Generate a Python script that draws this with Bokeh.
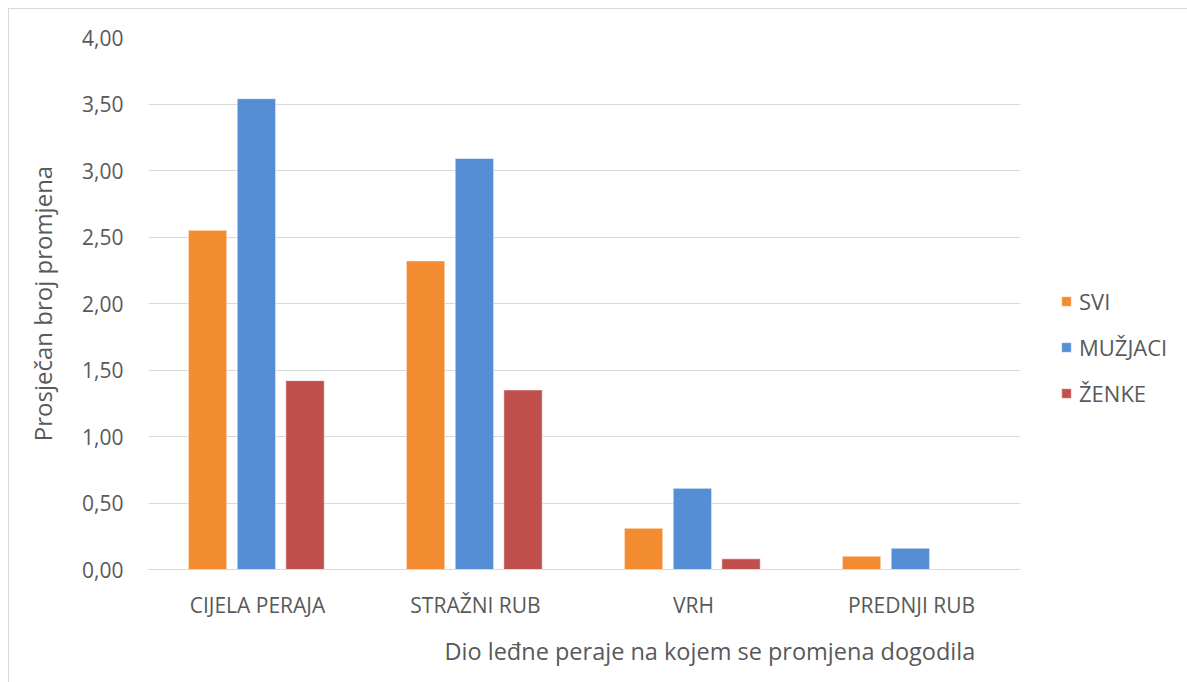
from bokeh.plotting import figure
from bokeh.models import (ColumnDataSource, FactorRange, Range1d, FixedTicker,
                          CustomJSTickFormatter, Legend, LegendItem, Title)
from bokeh.transform import dodge
from bokeh.embed import file_html
from bokeh.resources import INLINE

categories = ["CIJELA PERAJA", "STRAŽNI RUB", "VRH", "PREDNJI RUB"]
svi = [2.55, 2.32, 0.31, 0.10]
muzjaci = [3.54, 3.09, 0.61, 0.16]
zenke = [1.42, 1.35, 0.08, 0.0]
series_names = ["SVI", "MUŽJACI", "ŽENKE"]
colors = ["#F38B31", "#558ED5", "#C0504D"]
y_ticks = [0, 0.5, 1.0, 1.5, 2.0, 2.5, 3.0, 3.5, 4.0]

FONT = "Open Sans"
GREY = "#595959"

source = ColumnDataSource(data=dict(cat=categories, svi=svi, muzjaci=muzjaci, zenke=zenke))

p = figure(x_range=FactorRange(*categories, range_padding=0),
           y_range=Range1d(0, 4.0),
           frame_width=872, frame_height=532, output_backend="svg", toolbar_location=None,
           min_border_left=139, min_border_right=170, min_border_top=28, min_border_bottom=115)
p.styles = {"border": "1px solid #D9D9D9", "margin-left": "8px", "margin-top": "8px"}

renderers = []
for key, off, col in zip(["svi", "muzjaci", "zenke"], [-0.229, -0.005, 0.218], colors):
    r = p.vbar(x=dodge("cat", off, range=p.x_range), top=key, width=0.176, source=source,
               fill_color=col, line_color="white", line_alpha=0.5, line_width=1)
    renderers.append(r)

p.outline_line_color = None
p.xgrid.grid_line_color = None
p.ygrid.grid_line_color = "#D9D9D9"
p.ygrid.grid_line_width = 1

p.yaxis.ticker = FixedTicker(ticks=y_ticks)
p.yaxis.formatter = CustomJSTickFormatter(code="return tick.toFixed(2).replace('.', ',');")
p.yaxis.axis_line_color = None
p.yaxis.major_tick_line_color = None
p.yaxis.minor_tick_line_color = None
p.yaxis.major_label_standoff = 19
p.yaxis.major_label_text_font = FONT
p.yaxis.major_label_text_font_size = "21px"
p.yaxis.major_label_text_color = GREY
p.yaxis.axis_label = "Prosječan broj promjena"
p.yaxis.axis_label_text_font = FONT
p.yaxis.axis_label_text_font_size = "24px"
p.yaxis.axis_label_text_font_style = "normal"
p.yaxis.axis_label_text_color = GREY
p.yaxis.axis_label_standoff = 20

p.xaxis.axis_line_color = "#D9D9D9"
p.xaxis.major_tick_line_color = None
p.xaxis.minor_tick_line_color = None
p.xaxis.major_label_standoff = 15
p.xaxis.major_label_text_font = FONT
p.xaxis.major_label_text_font_size = "21px"
p.xaxis.major_label_text_color = GREY

xtitle = Title(text="Dio leđne peraje na kojem se promjena dogodila", align="left",
               offset=296, standoff=23, text_font=FONT, text_font_size="23.5px",
               text_font_style="normal", text_color=GREY)
p.add_layout(xtitle, "below")

legend = Legend(items=[LegendItem(label=n, renderers=[r]) for n, r in zip(series_names, renderers)],
                location=(40, 161), orientation="vertical", glyph_width=12, glyph_height=12,
                label_standoff=7, spacing=16, padding=0, margin=0,
                label_text_font=FONT, label_text_font_size="22px", label_text_color=GREY,
                border_line_color=None, background_fill_alpha=0)
p.add_layout(legend, "right")

open("out.html", "w").write(file_html(p, INLINE))
